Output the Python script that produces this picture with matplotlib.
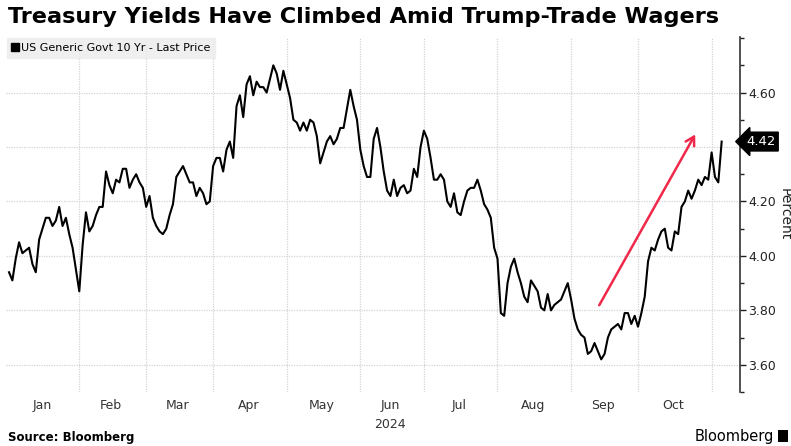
import matplotlib
matplotlib.use("Agg")
import matplotlib.pyplot as plt
import matplotlib.transforms as mtransforms
from matplotlib.lines import Line2D
from matplotlib.patches import Rectangle
import numpy as np
import pandas as pd

# US Generic Govt 10 Yr, daily close, 2024
jan = [3.94, 3.91, 3.99, 4.05, 4.01, 4.02, 4.03, 3.97, 3.94, 4.06, 4.10, 4.14, 4.14, 4.11, 4.13, 4.18, 4.11, 4.14, 4.08, 4.03, 3.95]
feb = [3.87, 4.04, 4.16, 4.09, 4.11, 4.15, 4.18, 4.18, 4.31, 4.26, 4.23, 4.28, 4.27, 4.32, 4.32, 4.25, 4.28, 4.30, 4.27, 4.25]
mar = [4.18, 4.22, 4.14, 4.11, 4.09, 4.08, 4.10, 4.15, 4.19, 4.29, 4.31, 4.33, 4.30, 4.27, 4.27, 4.22, 4.25, 4.23, 4.19, 4.20]
apr = [4.33, 4.36, 4.36, 4.31, 4.39, 4.42, 4.36, 4.55, 4.59, 4.51, 4.63, 4.66, 4.59, 4.64, 4.62, 4.62, 4.60, 4.65, 4.70, 4.67, 4.61, 4.68]
may = [4.63, 4.58, 4.50, 4.49, 4.46, 4.49, 4.46, 4.50, 4.49, 4.44, 4.34, 4.38, 4.42, 4.44, 4.41, 4.43, 4.47, 4.47, 4.54, 4.61, 4.55, 4.50]
jun = [4.39, 4.33, 4.29, 4.29, 4.43, 4.47, 4.40, 4.31, 4.24, 4.22, 4.28, 4.22, 4.25, 4.26, 4.23, 4.24, 4.32, 4.29, 4.40]
jul = [4.46, 4.43, 4.36, 4.28, 4.28, 4.30, 4.28, 4.20, 4.18, 4.23, 4.16, 4.15, 4.20, 4.24, 4.25, 4.25, 4.28, 4.24, 4.19, 4.17, 4.14, 4.03]
aug = [3.99, 3.79, 3.78, 3.90, 3.96, 3.99, 3.94, 3.90, 3.85, 3.83, 3.91, 3.89, 3.87, 3.81, 3.80, 3.86, 3.80, 3.82, 3.83, 3.84, 3.87, 3.90]
sep = [3.84, 3.77, 3.73, 3.71, 3.70, 3.64, 3.65, 3.68, 3.65, 3.62, 3.64, 3.70, 3.73, 3.74, 3.75, 3.73, 3.79, 3.79, 3.75, 3.78]
oct_ = [3.74, 3.79, 3.85, 3.98, 4.03, 4.02, 4.06, 4.09, 4.10, 4.03, 4.02, 4.09, 4.08, 4.18, 4.20, 4.24, 4.21, 4.24, 4.28, 4.26, 4.29, 4.28]
nov = [4.38, 4.29, 4.27, 4.42]

holidays = ["2024-01-15", "2024-02-19", "2024-03-29", "2024-05-27", "2024-06-19",
            "2024-07-04", "2024-09-02", "2024-10-14"]
month_labels = ["Jan", "Feb", "Mar", "Apr", "May", "Jun", "Jul", "Aug", "Sep", "Oct"]
yticks = [3.60, 3.80, 4.00, 4.20, 4.40, 4.60]
last_value = 4.42

# red arrow (trading-day index, percent)
arrow_start = (176, 3.81)
arrow_end = (205.5, 4.455)

values = np.array(jan + feb + mar + apr + may + jun + jul + aug + sep + oct_ + nov)
dates = pd.bdate_range("2024-01-02", "2024-11-06")
dates = dates[~dates.isin(pd.to_datetime(holidays))]
x = np.arange(len(values))

# month boundaries on the trading-day axis
month_start = [0] + [i for i in range(1, len(dates)) if dates[i].month != dates[i - 1].month]
month_mid = [(month_start[k] + month_start[k + 1] - 1) / 2 for k in range(len(month_labels))]

fig = plt.figure(figsize=(7.91, 4.46), dpi=100)
ax = fig.add_axes([0.0076, 0.121, 0.928, 0.796])

ax.plot(x, values, color="black", lw=1.5)

ax.set_xlim(-0.9, 218.5)
ax.set_ylim(3.513, 4.804)

ax.yaxis.tick_right()
ax.set_yticks(yticks)
# the 4.40 label sits under the last-price tag
ax.set_yticklabels(["" if abs(v - last_value) < 0.05 else f"{v:.2f}" for v in yticks])
ax.set_yticks(np.arange(3.5, 4.81, 0.1), minor=True)
ax.tick_params(axis="y", which="both", direction="out", length=4, width=1, colors="#222222",
               labelsize=9, pad=2)
ax.tick_params(axis="y", which="minor", length=3)

ax.set_xticks(month_start[1:])
ax.set_xticklabels([])
ax.set_xticks(month_mid, minor=True)
ax.set_xticklabels(month_labels, minor=True)
ax.tick_params(axis="x", which="both", length=0, labelsize=9, colors="#333333", pad=5)

ax.grid(True, which="major", color="#d4d4d4", linestyle=(0, (1, 1)), lw=0.9)

for s in ["top", "left", "bottom"]:
    ax.spines[s].set_visible(False)
ax.spines["right"].set_color("#333333")
ax.spines["right"].set_linewidth(1.2)

ax.text(month_mid[5], -0.072, "2024", transform=mtransforms.blended_transform_factory(ax.transData, ax.transAxes),
        ha="center", va="top", fontsize=9, color="#333333")

# axis title on the far right
fig.text(0.9915, 0.52, "Percent", rotation=270, ha="center", va="center", fontsize=10, color="#222222")

# last price tag
tag = ax.text(1.008, last_value, f"{last_value:.2f}",
              transform=mtransforms.blended_transform_factory(ax.transAxes, ax.transData),
              ha="left", va="center", fontsize=9.5, color="white", zorder=10, clip_on=False,
              bbox=dict(boxstyle="larrow,pad=0.22", facecolor="black", edgecolor="black"))

ax.annotate("", xy=arrow_end, xytext=arrow_start,
            arrowprops=dict(arrowstyle="->,head_length=0.6,head_width=0.35", color="#f0284a", lw=1.8))

handle = Line2D([], [], color="black", marker="s", markersize=6, linestyle="none")
leg = ax.legend([handle], ["US Generic Govt 10 Yr - Last Price"], loc="upper left",
                bbox_to_anchor=(0.0, 1.0), frameon=True, fontsize=8,
                handlelength=0.6, handletextpad=0.2, borderpad=0.45,
                borderaxespad=0.1, fancybox=False)
leg.get_frame().set_facecolor("#ececec")
leg.get_frame().set_edgecolor("#ececec")

fig.text(0.01, 0.962, "Treasury Yields Have Climbed Amid Trump-Trade Wagers", fontsize=16.1,
         fontweight="bold", ha="left", va="center", color="black")
fig.text(0.01, 0.02, "Source: Bloomberg", fontsize=8.5, fontweight="bold", ha="left", va="center")
fig.text(0.978, 0.022, "Bloomberg", fontsize=10.5, ha="right", va="center")
fig.patches.append(Rectangle((0.984, 0.008), 0.012, 0.028, transform=fig.transFigure,
                             facecolor="black", edgecolor="none"))

fig.savefig("out.png", dpi=100)
